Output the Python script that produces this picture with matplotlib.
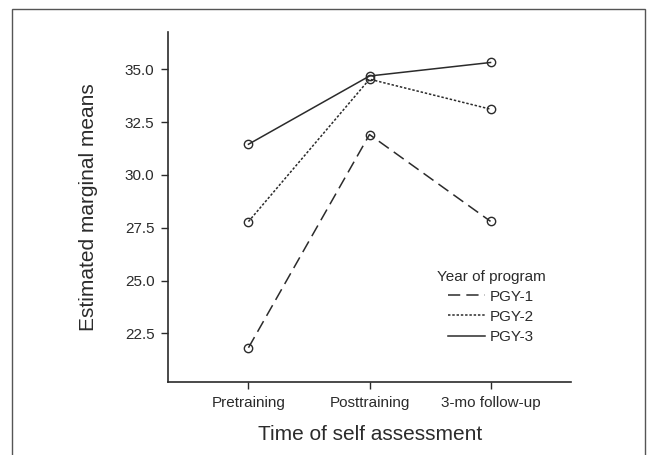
import matplotlib
matplotlib.use("Agg")
import matplotlib.pyplot as plt
from matplotlib.patches import Rectangle

# --- Data ---
times = ["Pretraining", "Posttraining", "3-mo follow-up"]
pgy1 = [21.82, 31.91, 27.80]
pgy2 = [27.79, 34.53, 33.11]
pgy3 = [31.45, 34.68, 35.32]
series_labels = ["PGY-1", "PGY-2", "PGY-3"]
y_ticks = [22.5, 25.0, 27.5, 30.0, 32.5, 35.0]

plt.rcParams['font.family'] = ['Liberation Sans', 'DejaVu Sans']
ink = "#2b2b2b"

fig = plt.figure(figsize=(6.55, 4.55), dpi=100)
ax = fig.add_axes([0.257, 0.161, 0.615, 0.769])

# figure frame
fig.patches.append(Rectangle((11.7 / 655, -0.1), (645.4 - 11.7) / 655, 1.1 - 9.3 / 455,
                             transform=fig.transFigure, fill=False,
                             edgecolor="#555555", linewidth=1.0))

x = list(range(len(times)))
styles = [(0, (8, 4)), (0, (1.6, 1.2)), "-"]
for vals, lab, ls in zip([pgy1, pgy2, pgy3], series_labels, styles):
    ax.plot(x, vals, color=ink, linestyle=ls, linewidth=1.1, label=lab,
            marker="o", markersize=6, markerfacecolor="none",
            markeredgecolor=ink, markeredgewidth=1.0)

ax.set_xlim(-0.662, 2.666)
ax.set_ylim(20.21, 36.77)
ax.set_xticks(x)
ax.set_xticklabels(times)
ax.set_yticks(y_ticks)
ax.set_yticklabels([f"{v:.1f}" for v in y_ticks])

for s in ["top", "right"]:
    ax.spines[s].set_visible(False)
for s in ["left", "bottom"]:
    ax.spines[s].set_color(ink)
    ax.spines[s].set_linewidth(1.2)
ax.tick_params(colors=ink, labelsize=11, length=5, width=1.0, pad=5)

ax.set_xlabel("Time of self assessment", fontsize=15, color=ink, labelpad=11)
ax.set_ylabel("Estimated marginal means", fontsize=15, color=ink, labelpad=19)

leg = ax.legend(title="Year of program", frameon=False, fontsize=11,
                title_fontsize=11, handlelength=2.4, handletextpad=0.35,
                labelspacing=0.4, loc="upper left",
                bbox_to_anchor=(0.632, 0.36))
for t in leg.get_texts():
    t.set_color(ink)
leg.get_title().set_color(ink)
for h in leg.legend_handles:
    h.set_marker("")

fig.savefig("out.png", dpi=100)
